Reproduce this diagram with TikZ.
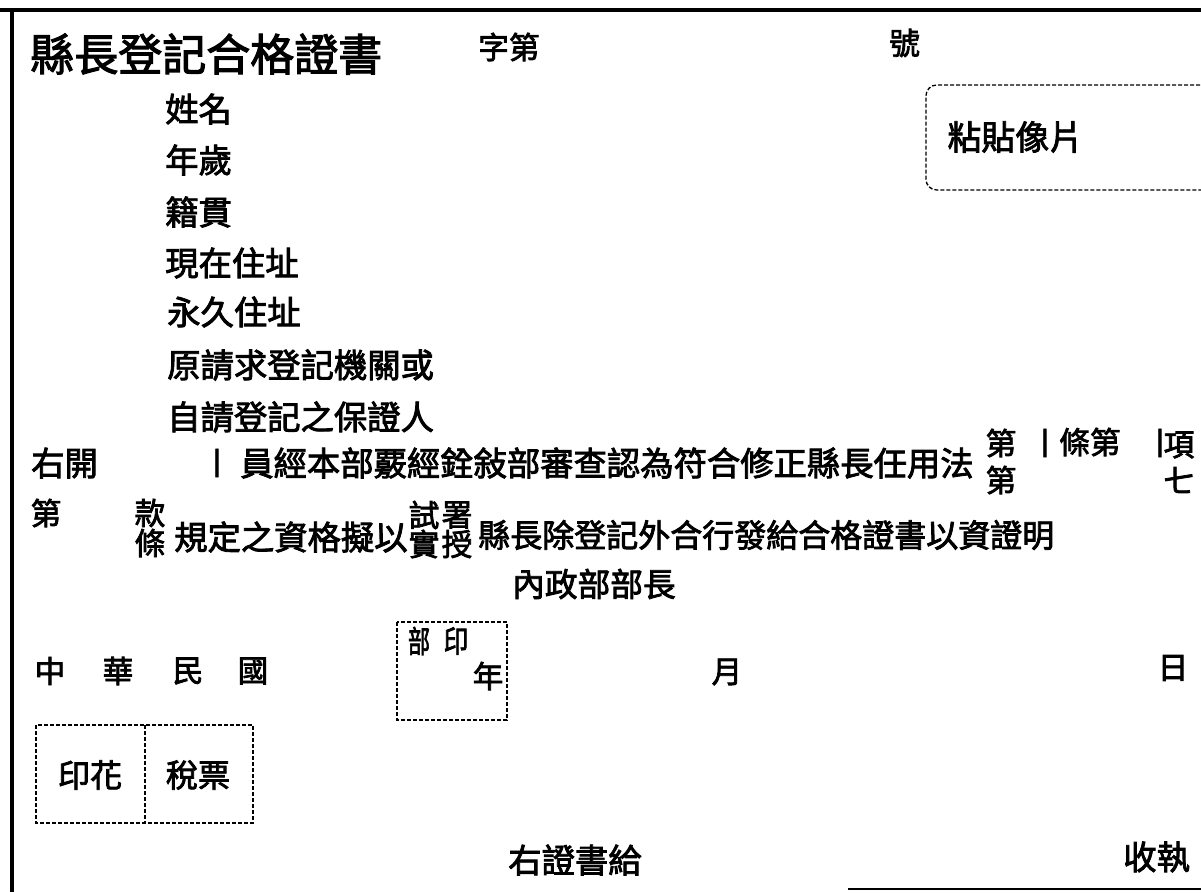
\documentclass[tikz,border=0pt]{standalone}
\usepackage{fontspec}
\newfontfamily\cjk[FakeBold=2.5]{Noto Sans CJK TC}
\newcommand{\cjksize}[1]{\fontsize{#1}{#1}\selectfont}
\tikzset{myrow/.style={inner sep=0pt,anchor=west,font=\cjk\cjksize{25pt}}}
\tikzset{mychar/.style={inner sep=0pt,font=\cjk\cjksize{23pt}}}
\tikzset{mybox/.style={line width=1pt,dash pattern=on 3pt off 1.5pt}}
\tikzset{myrule/.style={line width=2.5pt}}

\begin{document}
\begin{tikzpicture}[x=0.75pt,y=-0.75pt]
	\useasboundingbox (0,0) rectangle (1201,892);
	\fill[white] (0,0) rectangle (1201,892);

	\draw[myrule] (0,10) -- (1201,10);
	\draw[myrule] (12,12) -- (12,892);
	\draw[line width=1.5pt] (848,889) -- (1201,889); % frame

	\node[myrow,font=\cjk\cjksize{33pt}] (title) at (30,54) {縣長登記合格證書};
	\node[myrow,font=\cjk\cjksize{23pt}] (zidi) at (478,47) {字第};
	\node[myrow,font=\cjk\cjksize{23pt}] (hao) at (889,43) {號};

	\draw[mybox,rounded corners=8pt] (1230,85) -- (926,85) -- (926,190) -- (1230,190);
	\node[myrow,font=\cjk\cjksize{25.5pt}] (photo) at (947,137) {粘貼像片};

	\node[myrow] (name) at (165,109) {姓名};
	\node[myrow] (age) at (165,160) {年歲};
	\node[myrow] (origin) at (165,212) {籍貫};
	\node[myrow] (addrnow) at (165,263) {現在住址};
	\node[myrow] (addrfix) at (167,312) {永久住址};
	\node[myrow] (office) at (167,365) {原請求登記機關或};
	\node[myrow] (surety) at (167,417) {自請登記之保證人};

	\node[myrow] (youkai) at (31,463) {右開};
	\node[mychar] (barA) at (217,463) {丨};
	\node[myrow] (lineA) at (240,463) {員經本部覈經銓敍部審查認為符合修正縣長任用法};
	\node[mychar] (diA) at (1001,443) {第};
	\node[mychar] (diB) at (1001,480) {第};
	\node[mychar] (barB) at (1045,443) {丨};
	\node[myrow,font=\cjk\cjksize{23pt}] (tiaodi) at (1059,442) {條第};
	\node[mychar] (barC) at (1160,443) {丨};
	\node[mychar] (xiang) at (1179,445) {項};
	\node[mychar] (qi) at (1179,480) {七};

	\node[mychar] (diC) at (46,513) {第};
	\node[mychar] (kuan) at (150,513) {款};
	\node[mychar] (tiao) at (150,543) {條};
	\node[myrow] (lineB) at (174,537) {規定之資格擬以};
	\node[mychar] (shi) at (424,515) {試};
	\node[mychar] (shu) at (457,515) {署};
	\node[mychar] (shiB) at (424,544) {實};
	\node[mychar] (shou) at (457,544) {授};
	\node[myrow,font=\cjk\cjksize{24pt}] (lineC) at (478,535) {縣長除登記外合行發給合格證書以資證明};
	\node[myrow,font=\cjk\cjksize{24.5pt}] (minister) at (512,584) {內政部部長};

	\node[mychar] (zhong) at (50,671) {中};
	\node[mychar] (hua) at (118,671) {華};
	\node[mychar] (min) at (188,671) {民};
	\node[mychar] (guo) at (253,671) {國};

	\draw[mybox] (397,622) rectangle (507,720);
	\node[mychar,font=\cjk\cjksize{23pt}] (bu) at (419,641) {\scalebox{0.72}[1]{部}};
	\node[mychar,font=\cjk\cjksize{23pt}] (yin) at (456,641) {\scalebox{0.8}[1]{印}};
	\node[mychar] (nian) at (488,676) {年};
	\node[mychar] (yue) at (727,672) {月};
	\node[mychar] (ri) at (1173,668) {日};

	\draw[mybox] (36,725) rectangle (253,823) (145,725) -- (145,823);
	\node[mychar,font=\cjk\cjksize{24pt}] (yinhua) at (90,775) {印花};
	\node[mychar,font=\cjk\cjksize{24pt}] (shuipiao) at (198,775) {稅票};

	\node[myrow] (gei) at (508,860) {右證書給};
	\node[myrow] (shouzhi) at (1123,857) {收執};
\end{tikzpicture}
\end{document}
